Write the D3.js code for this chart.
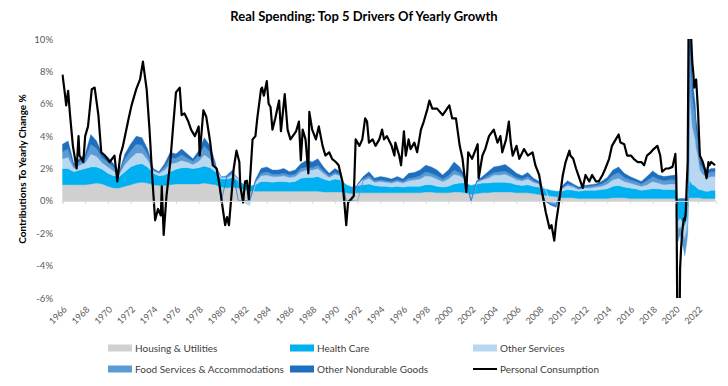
<!DOCTYPE html>
<html>
<head>
<meta charset="utf-8">
<script src="https://cdn.jsdelivr.net/npm/d3@7"></script>
<style>
    body { margin: 0; background: #fff; }
    text { font-family: Lato, "Open Sans", sans-serif; }
</style>
</head>
<body>
<div id="chart"></div>
<script>
"use strict";

// ---- data ----
var lineDates = [
    "1966-01", "1966-03", "1966-05", "1966-07", "1966-09", "1966-12", "1967-04", "1967-06", "1967-07", "1967-11",
    "1968-01", "1968-04", "1968-08", "1968-11", "1969-03", "1969-06", "1969-10", "1970-03", "1970-08", "1970-11",
    "1971-02", "1971-05", "1971-11", "1972-02", "1972-07", "1972-11", "1973-02", "1973-06", "1973-09", "1973-12",
    "1974-03", "1974-06", "1974-09", "1974-10", "1974-12", "1975-03", "1975-07", "1975-10", "1976-01", "1976-05",
    "1976-07", "1976-10", "1977-02", "1977-05", "1977-09", "1978-01", "1978-02", "1978-06", "1978-09", "1979-01",
    "1979-04", "1979-08", "1979-11", "1980-02", "1980-05", "1980-07", "1980-09", "1980-11", "1981-02", "1981-05",
    "1981-08", "1981-09", "1981-12", "1982-02", "1982-04", "1982-06", "1982-10", "1983-01", "1983-03", "1983-07",
    "1983-08", "1983-10", "1984-01", "1984-03", "1984-05", "1984-07", "1984-10", "1985-02", "1985-04", "1985-08",
    "1985-11", "1986-02", "1986-08", "1986-11", "1987-01", "1987-03", "1987-06", "1987-09", "1987-10", "1988-01",
    "1988-05", "1988-08", "1988-12", "1989-03", "1989-07", "1989-10", "1990-02", "1990-05", "1990-09", "1990-11",
    "1991-01", "1991-03", "1991-06", "1991-09", "1991-11", "1992-03", "1992-06", "1992-09", "1992-11", "1993-01",
    "1993-05", "1993-08", "1993-12", "1994-03", "1994-05", "1994-08", "1995-01", "1995-04", "1995-05", "1995-09",
    "1995-11", "1996-02", "1996-04", "1996-07", "1996-09", "1997-01", "1997-04", "1997-08", "1997-11", "1998-03",
    "1998-05", "1998-08", "1999-01", "1999-07", "2000-02", "2000-05", "2000-09", "2001-01", "2001-04", "2001-08",
    "2001-10", "2002-02", "2002-08", "2002-09", "2003-01", "2003-04", "2003-08", "2004-01", "2004-05", "2004-08",
    "2004-10", "2005-02", "2005-05", "2005-07", "2005-09", "2006-01", "2006-04", "2006-09", "2007-01", "2007-06",
    "2007-09", "2008-01", "2008-04", "2008-08", "2008-12", "2009-02", "2009-05", "2009-07", "2009-10", "2010-02",
    "2010-05", "2010-09", "2010-10", "2011-01", "2011-04", "2011-07", "2011-11", "2012-02", "2012-06", "2012-09",
    "2013-01", "2013-04", "2013-08", "2013-11", "2014-03", "2014-06", "2014-10", "2015-01", "2015-03", "2015-07",
    "2015-10", "2016-02", "2016-05", "2016-09", "2017-01", "2017-04", "2017-07", "2017-11", "2018-02", "2018-06",
    "2018-09", "2018-11", "2019-03", "2019-06", "2019-10", "2020-01", "2020-02", "2020-03", "2020-04", "2020-05",
    "2020-06", "2020-07", "2020-08", "2020-09", "2020-10", "2020-11", "2020-12", "2021-01", "2021-02", "2021-03",
    "2021-04", "2021-05", "2021-06", "2021-07", "2021-08", "2021-09", "2021-10", "2021-11", "2021-12", "2022-01",
    "2022-02", "2022-03", "2022-06", "2022-08", "2022-10", "2022-12", "2023-01", "2023-03", "2023-07"
];
var personalConsumption = [
    7.8, 6.9, 5.9, 6.8, 5.3, 3.4, 2.0, 4.0, 2.8, 2.4,
    4.0, 4.6, 6.9, 7.0, 5.3, 3.0, 2.8, 2.4, 2.8, 1.2,
    2.8, 3.4, 5.1, 5.9, 6.9, 7.5, 8.6, 6.9, 4.4, 1.4,
    -1.2, -0.5, -0.9, 0.9, -2.1, 0.3, 2.4, 4.6, 6.7, 7.0,
    5.3, 5.4, 4.9, 4.4, 4.0, 4.6, 2.8, 5.6, 5.2, 3.7,
    2.2, 2.0, 1.0, -0.3, -1.5, -1.0, -1.5, -0.1, 2.0, 3.1,
    2.4, 0.9, -0.1, 1.2, 1.25, 0.1, 3.8, 4.0, 5.1, 6.9,
    7.0, 6.5, 7.4, 6.0, 5.8, 4.4, 5.1, 6.2, 4.3, 6.6,
    4.4, 3.8, 4.3, 4.9, 2.5, 4.4, 3.8, 1.7, 5.5, 4.4,
    3.8, 4.6, 3.4, 2.8, 3.0, 2.6, 2.4, 2.2, 1.2, -0.1,
    -1.5, -0.1, 0.1, 0.3, 3.8, 3.4, 3.8, 5.1, 4.9, 3.6,
    3.8, 3.4, 3.8, 4.4, 3.8, 4.0, 3.4, 2.8, 3.6, 2.8,
    2.2, 4.3, 2.8, 3.8, 3.2, 3.6, 3.0, 4.4, 4.9, 5.7,
    6.2, 5.7, 5.7, 5.3, 5.9, 5.1, 5.1, 3.4, 2.6, 0.55,
    3.0, 2.6, 3.5, 1.4, 2.8, 3.2, 4.0, 4.4, 3.6, 4.0,
    3.0, 3.8, 4.9, 3.6, 2.8, 3.4, 2.6, 3.2, 2.8, 3.0,
    2.2, 1.6, 0.55, -0.7, -1.7, -1.5, -2.45, -1.3, -0.1, 1.6,
    2.4, 3.1, 2.8, 2.6, 2.0, 1.5, 0.8, 1.6, 1.2, 1.6,
    1.2, 1.2, 1.6, 2.0, 2.6, 3.4, 3.8, 4.1, 3.6, 3.5,
    2.8, 2.8, 2.6, 2.4, 2.4, 2.2, 2.8, 3.0, 3.2, 3.4,
    2.8, 1.8, 2.0, 2.0, 2.1, 2.9, 1.4, -6.5, -16.5, -10.5,
    -4.2, -3.0, -2.1, -1.5, -1.1, -1.2, -0.7, 1.0, 2.4, 10.5,
    16.5, 11.5, 9.7, 8.5, 7.9, 7.0, 7.3, 7.5, 6.5, 5.5,
    4.0, 2.8, 2.4, 2.0, 1.4, 2.4, 2.2, 2.4, 2.2
];

var stackDates = [
    "1966-01", "1966-07", "1967-01", "1967-07", "1968-01", "1968-07", "1969-01", "1969-07", "1970-01", "1970-07",
    "1971-01", "1971-07", "1972-01", "1972-07", "1973-01", "1973-07", "1974-01", "1974-07", "1975-01", "1975-07",
    "1976-01", "1976-07", "1977-01", "1977-07", "1978-01", "1978-07", "1979-01", "1979-07", "1980-01", "1980-07",
    "1981-01", "1981-07", "1982-01", "1982-07", "1983-01", "1983-07", "1984-01", "1984-07", "1985-01", "1985-07",
    "1986-01", "1986-07", "1987-01", "1987-07", "1988-01", "1988-07", "1989-01", "1989-07", "1990-01", "1990-07",
    "1991-01", "1991-07", "1992-01", "1992-07", "1993-01", "1993-07", "1994-01", "1994-07", "1995-01", "1995-07",
    "1996-01", "1996-07", "1997-01", "1997-07", "1998-01", "1998-07", "1999-01", "1999-07", "2000-01", "2000-07",
    "2001-01", "2001-07", "2002-01", "2002-07", "2003-01", "2003-07", "2004-01", "2004-07", "2005-01", "2005-07",
    "2006-01", "2006-07", "2007-01", "2007-07", "2008-01", "2008-07", "2009-01", "2009-07", "2010-01", "2010-07",
    "2011-01", "2011-07", "2012-01", "2012-07", "2013-01", "2013-07", "2014-01", "2014-07", "2015-01", "2015-07",
    "2016-01", "2016-07", "2017-01", "2017-07", "2018-01", "2018-07", "2019-01", "2019-07", "2020-01", "2020-02",
    "2020-03", "2020-04", "2020-05", "2020-06", "2020-07", "2020-08", "2020-09", "2020-10", "2020-11", "2020-12",
    "2021-01", "2021-02", "2021-03", "2021-04", "2021-05", "2021-06", "2021-07", "2021-08", "2021-09", "2021-10",
    "2021-11", "2021-12", "2022-01", "2022-02", "2022-03", "2022-06", "2022-09", "2022-12", "2023-03", "2023-07"
];
var housingUtilities = [
    1.0, 1.0, 1.0, 1.0, 1.0, 1.05, 1.1, 1.05, 0.9, 0.8,
    0.8, 0.9, 1.0, 1.1, 1.15, 1.1, 1.0, 0.95, 0.95, 1.0,
    1.05, 1.05, 1.05, 1.05, 1.05, 1.1, 1.05, 1.0, 0.85, 0.8,
    0.85, 0.8, 0.7, 0.6, 0.6, 0.6, 0.6, 0.6, 0.6, 0.6,
    0.6, 0.6, 0.6, 0.6, 0.6, 0.6, 0.55, 0.55, 0.55, 0.55,
    0.5, 0.45, 0.5, 0.5, 0.5, 0.5, 0.5, 0.5, 0.5, 0.5,
    0.5, 0.5, 0.5, 0.5, 0.55, 0.55, 0.5, 0.5, 0.5, 0.55,
    0.55, 0.5, 0.4, 0.45, 0.5, 0.5, 0.55, 0.55, 0.55, 0.55,
    0.5, 0.5, 0.5, 0.45, 0.4, 0.35, 0.3, 0.25, 0.2, 0.2,
    0.2, 0.15, 0.15, 0.15, 0.15, 0.15, 0.15, 0.2, 0.2, 0.2,
    0.15, 0.15, 0.15, 0.15, 0.15, 0.15, 0.15, 0.15, 0.15, 0.1,
    0.05, 0.0, 0.0, 0.0, 0.0, 0.0, 0.0, 0.0, 0.0, 0.0,
    0.0, 0.0, 0.1, 0.2, 0.2, 0.2, 0.2, 0.2, 0.2, 0.2,
    0.2, 0.2, 0.2, 0.2, 0.2, 0.15, 0.15, 0.15, 0.15, 0.15
];
var healthCare = [
    1.0, 1.0, 0.8, 0.9, 1.0, 1.05, 1.0, 0.9, 0.8, 0.75,
    0.7, 0.9, 1.1, 1.15, 1.15, 1.0, 0.7, 0.6, 0.65, 0.8,
    0.9, 1.0, 1.0, 0.95, 1.0, 1.05, 1.0, 0.8, 0.5, 0.55,
    0.6, 0.45, 0.3, 0.3, 0.4, 0.6, 0.6, 0.55, 0.6, 0.6,
    0.55, 0.6, 0.8, 0.85, 0.85, 0.9, 0.8, 0.7, 0.8, 0.75,
    0.5, 0.4, 0.45, 0.5, 0.55, 0.45, 0.4, 0.4, 0.35, 0.4,
    0.35, 0.4, 0.4, 0.4, 0.45, 0.45, 0.4, 0.35, 0.4, 0.5,
    0.55, 0.6, 0.55, 0.6, 0.6, 0.6, 0.6, 0.6, 0.6, 0.55,
    0.5, 0.45, 0.5, 0.45, 0.45, 0.4, 0.35, 0.35, 0.4, 0.5,
    0.45, 0.45, 0.5, 0.5, 0.5, 0.55, 0.6, 0.7, 0.75, 0.65,
    0.65, 0.6, 0.5, 0.55, 0.6, 0.6, 0.55, 0.55, 0.55, 0.45,
    -0.6, -1.3, -1.2, -1.1, -1.2, -1.3, -1.4, -1.5, -1.6, -1.4,
    -1.2, -0.9, 0.4, 1.2, 1.0, 0.9, 0.8, 0.8, 0.75, 0.7,
    0.65, 0.6, 0.55, 0.5, 0.5, 0.5, 0.45, 0.45, 0.5, 0.5
];
var otherServices = [
    0.6, 0.7, 0.2, 0.3, 0.35, 0.8, 0.65, 0.4, 0.4, 0.3,
    0.15, 0.45, 0.55, 0.7, 0.65, 0.45, 0.15, 0.15, 0.3, 0.5,
    0.4, 0.45, 0.35, 0.25, 0.4, 0.7, 0.55, 0.2, 0.1, 0.1,
    0.2, 0.1, -0.1, -0.3, 0.15, 0.35, 0.4, 0.35, 0.3, 0.35,
    0.3, 0.3, 0.4, 0.45, 0.45, 0.5, 0.35, 0.2, 0.3, 0.25,
    0.0, 0.0, 0.05, 0.25, 0.35, 0.2, 0.3, 0.25, 0.25, 0.3,
    0.25, 0.35, 0.4, 0.45, 0.55, 0.5, 0.45, 0.35, 0.45, 0.6,
    0.45, 0.2, 0.0, 0.1, 0.2, 0.3, 0.45, 0.45, 0.5, 0.4,
    0.3, 0.3, 0.35, 0.25, 0.2, 0.05, -0.1, -0.15, 0.15, 0.25,
    0.2, 0.1, 0.15, 0.15, 0.2, 0.2, 0.3, 0.4, 0.45, 0.35,
    0.3, 0.25, 0.25, 0.3, 0.45, 0.35, 0.3, 0.35, 0.35, 0.25,
    -0.3, -0.5, -0.5, -0.5, -0.5, -0.6, -0.6, -0.7, -0.8, -0.7,
    -0.6, -0.5, 0.5, 5.5, 4.8, 4.2, 3.6, 3.3, 3.1, 2.9,
    2.4, 2.2, 2.0, 1.6, 1.2, 1.0, 0.9, 0.85, 0.85, 0.85
];
var foodServices = [
    0.45, 0.5, 0.15, 0.2, 0.3, 0.6, 0.5, 0.3, 0.3, 0.25,
    0.1, 0.35, 0.45, 0.55, 0.5, 0.35, 0.1, 0.05, 0.2, 0.35,
    0.3, 0.35, 0.25, 0.2, 0.35, 0.55, 0.4, 0.15, 0.05, 0.1,
    0.1, 0.05, 0.0, 0.0, 0.05, 0.15, 0.2, 0.15, 0.15, 0.15,
    0.15, 0.15, 0.2, 0.2, 0.15, 0.2, 0.15, 0.1, 0.1, 0.1,
    0.0, 0.0, 0.0, 0.1, 0.15, 0.1, 0.1, 0.1, 0.1, 0.1,
    0.1, 0.15, 0.15, 0.2, 0.25, 0.2, 0.2, 0.15, 0.2, 0.25,
    0.2, 0.05, 0.0, 0.05, 0.05, 0.15, 0.15, 0.2, 0.2, 0.15,
    0.15, 0.1, 0.15, 0.1, 0.05, 0.0, -0.1, -0.15, 0.05, 0.1,
    0.1, 0.05, 0.05, 0.1, 0.1, 0.15, 0.2, 0.3, 0.35, 0.25,
    0.2, 0.2, 0.15, 0.25, 0.3, 0.25, 0.25, 0.25, 0.25, 0.15,
    -0.5, -0.7, -0.6, -0.5, -0.6, -0.7, -0.8, -0.9, -1.0, -0.9,
    -0.8, -0.6, 0.3, 2.8, 2.6, 2.3, 1.8, 1.7, 1.55, 1.4,
    1.1, 1.0, 0.75, 0.5, 0.4, 0.35, 0.3, 0.25, 0.3, 0.3
];
var otherNondurables = [
    0.45, 0.5, 0.15, 0.2, 0.25, 0.6, 0.45, 0.25, 0.3, 0.2,
    0.05, 0.3, 0.4, 0.5, 0.45, 0.3, 0.05, 0.05, 0.2, 0.35,
    0.25, 0.35, 0.25, 0.15, 0.3, 0.5, 0.4, 0.15, 0.0, 0.05,
    0.15, 0.0, 0.0, 0.0, 0.1, 0.3, 0.3, 0.25, 0.25, 0.3,
    0.2, 0.25, 0.3, 0.4, 0.35, 0.4, 0.25, 0.15, 0.25, 0.15,
    0.0, 0.0, 0.05, 0.15, 0.25, 0.15, 0.2, 0.2, 0.15, 0.2,
    0.15, 0.3, 0.3, 0.35, 0.4, 0.4, 0.35, 0.25, 0.35, 0.5,
    0.35, 0.15, 0.0, 0.05, 0.15, 0.25, 0.35, 0.35, 0.4, 0.35,
    0.25, 0.2, 0.25, 0.15, 0.1, 0.0, -0.05, -0.1, 0.1, 0.2,
    0.1, 0.1, 0.1, 0.1, 0.1, 0.15, 0.2, 0.3, 0.35, 0.25,
    0.2, 0.15, 0.15, 0.25, 0.35, 0.25, 0.25, 0.25, 0.3, 0.25,
    0.1, 0.1, 0.15, 0.15, 0.15, 0.15, 0.15, 0.15, 0.15, 0.1,
    0.1, 0.1, 0.3, 1.8, 1.6, 1.4, 1.1, 1.0, 0.9, 0.8,
    0.65, 0.6, 0.5, 0.4, 0.3, 0.3, 0.2, 0.2, 0.2, 0.2
];

var seriesKeys = ["housing", "health", "otherSvc", "food", "nondur"];
var seriesNames = ["Housing & Utilities", "Health Care", "Other Services",
    "Food Services & Accommodations", "Other Nondurable Goods"];
var seriesColors = ["#d0d0d0", "#00b0f0", "#b8d8f2", "#5b9bd5", "#1f6fbf"];

var yTicks = [-6, -4, -2, 0, 2, 4, 6, 8, 10];
var xTickYears = [1966, 1968, 1970, 1972, 1974, 1976, 1978, 1980, 1982, 1984, 1986, 1988, 1990, 1992, 1994,
    1996, 1998, 2000, 2002, 2004, 2006, 2008, 2010, 2012, 2014, 2016, 2018, 2020, 2022];

// ---- layout ----
var width = 728;
var height = 386;
var plotLeft = 62.5;
var plotRight = 716;
var plotTop = 39;
var plotBottom = 298;

var parseMonth = d3.timeParse("%Y-%m");

var svg = d3.select("#chart").append("svg")
    .attr("width", width)
    .attr("height", height);

var x = d3.scaleTime()
    .domain([new Date(1966, 0, 1), new Date(2023, 7, 1)])
    .range([plotLeft, plotRight]);

var y = d3.scaleLinear()
    .domain([-6, 10])
    .range([plotBottom, plotTop]);

svg.append("clipPath")
    .attr("id", "plotClip")
    .append("rect")
    .attr("x", plotLeft - 1)
    .attr("y", plotTop)
    .attr("width", plotRight - plotLeft + 2)
    .attr("height", plotBottom - plotTop);

// title
svg.append("text")
    .attr("x", width / 2)
    .attr("y", 21)
    .attr("text-anchor", "middle")
    .style("font-size", "13px")
    .style("font-weight", "bold")
    .style("fill", "#000")
    .text("Real Spending: Top 5 Drivers Of Yearly Growth");

// y axis labels
svg.append("g")
    .selectAll("text")
    .data(yTicks)
    .enter()
    .append("text")
    .attr("x", 53)
    .attr("y", function (d) { return y(d) + 3.5; })
    .attr("text-anchor", "end")
    .style("font-size", "9.5px")
    .style("fill", "#595959")
    .text(function (d) { return d + "%"; });

svg.append("text")
    .attr("transform", "translate(26,169) rotate(-90)")
    .attr("text-anchor", "middle")
    .style("font-size", "10px")
    .style("font-weight", "bold")
    .style("fill", "#000")
    .text("Contributions To Yearly Change %");

// stacked areas
var rows = stackDates.map(function (d, i) {
    return {
        date: parseMonth(d),
        housing: housingUtilities[i],
        health: healthCare[i],
        otherSvc: otherServices[i],
        food: foodServices[i],
        nondur: otherNondurables[i]
    };
});

var stacked = d3.stack()
    .keys(seriesKeys)
    .offset(d3.stackOffsetDiverging)(rows);

var area = d3.area()
    .x(function (d) { return x(d.data.date); })
    .y0(function (d) { return y(d[0]); })
    .y1(function (d) { return y(d[1]); });

var plot = svg.append("g").attr("clip-path", "url(#plotClip)");

plot.selectAll(".layer")
    .data(stacked)
    .enter()
    .append("path")
    .attr("class", "layer")
    .attr("d", area)
    .style("fill", function (d, i) { return seriesColors[i]; })
    .style("stroke", function (d, i) { return seriesColors[i]; })
    .style("stroke-width", 0.4);

// zero axis with small ticks
var xAxis = d3.axisBottom(x)
    .tickValues(xTickYears.map(function (yr) { return new Date(yr, 0, 1); }))
    .tickSize(3)
    .tickFormat("");

var axisG = svg.append("g")
    .attr("transform", "translate(0," + y(0) + ")")
    .call(xAxis);
axisG.select(".domain").attr("stroke", "#d9d9d9");
axisG.selectAll(".tick line").attr("stroke", "#d9d9d9");

// personal consumption line
var lineData = lineDates.map(function (d, i) {
    return { date: parseMonth(d), value: personalConsumption[i] };
});

var line = d3.line()
    .x(function (d) { return x(d.date); })
    .y(function (d) { return y(d.value); });

plot.append("path")
    .datum(lineData)
    .attr("d", line)
    .style("fill", "none")
    .style("stroke", "#000")
    .style("stroke-width", 2.2)
    .style("stroke-linejoin", "round");

// x tick labels, rotated
svg.append("g")
    .selectAll("text")
    .data(xTickYears)
    .enter()
    .append("text")
    .attr("transform", function (d) {
        return "translate(" + (x(new Date(d, 0, 1)) + 5) + "," + (plotBottom + 12) + ") rotate(-45)";
    })
    .attr("text-anchor", "end")
    .style("font-size", "9px")
    .style("fill", "#595959")
    .text(function (d) { return d; });

// legend
var legendItems = [
    { name: seriesNames[0], color: seriesColors[0], x: 108, y: 348, kind: "box" },
    { name: seriesNames[1], color: seriesColors[1], x: 290, y: 348, kind: "box" },
    { name: seriesNames[2], color: seriesColors[2], x: 473, y: 348, kind: "box" },
    { name: seriesNames[3], color: seriesColors[3], x: 108, y: 369, kind: "box" },
    { name: seriesNames[4], color: seriesColors[4], x: 290, y: 369, kind: "box" },
    { name: "Personal Consumption", color: "#000", x: 473, y: 369, kind: "line" }
];

var legend = svg.append("g").selectAll("g")
    .data(legendItems)
    .enter()
    .append("g")
    .attr("transform", function (d) { return "translate(" + d.x + "," + d.y + ")"; });

legend.filter(function (d) { return d.kind === "box"; })
    .append("rect")
    .attr("x", 0)
    .attr("y", -3.5)
    .attr("width", 24)
    .attr("height", 7)
    .style("fill", function (d) { return d.color; });

legend.filter(function (d) { return d.kind === "line"; })
    .append("line")
    .attr("x1", 0)
    .attr("x2", 24)
    .attr("y1", 0)
    .attr("y2", 0)
    .style("stroke", "#000")
    .style("stroke-width", 2);

legend.append("text")
    .attr("x", 27)
    .attr("y", 3.5)
    .style("font-size", "10px")
    .style("fill", "#404040")
    .text(function (d) { return d.name; });
</script>
</body>
</html>
